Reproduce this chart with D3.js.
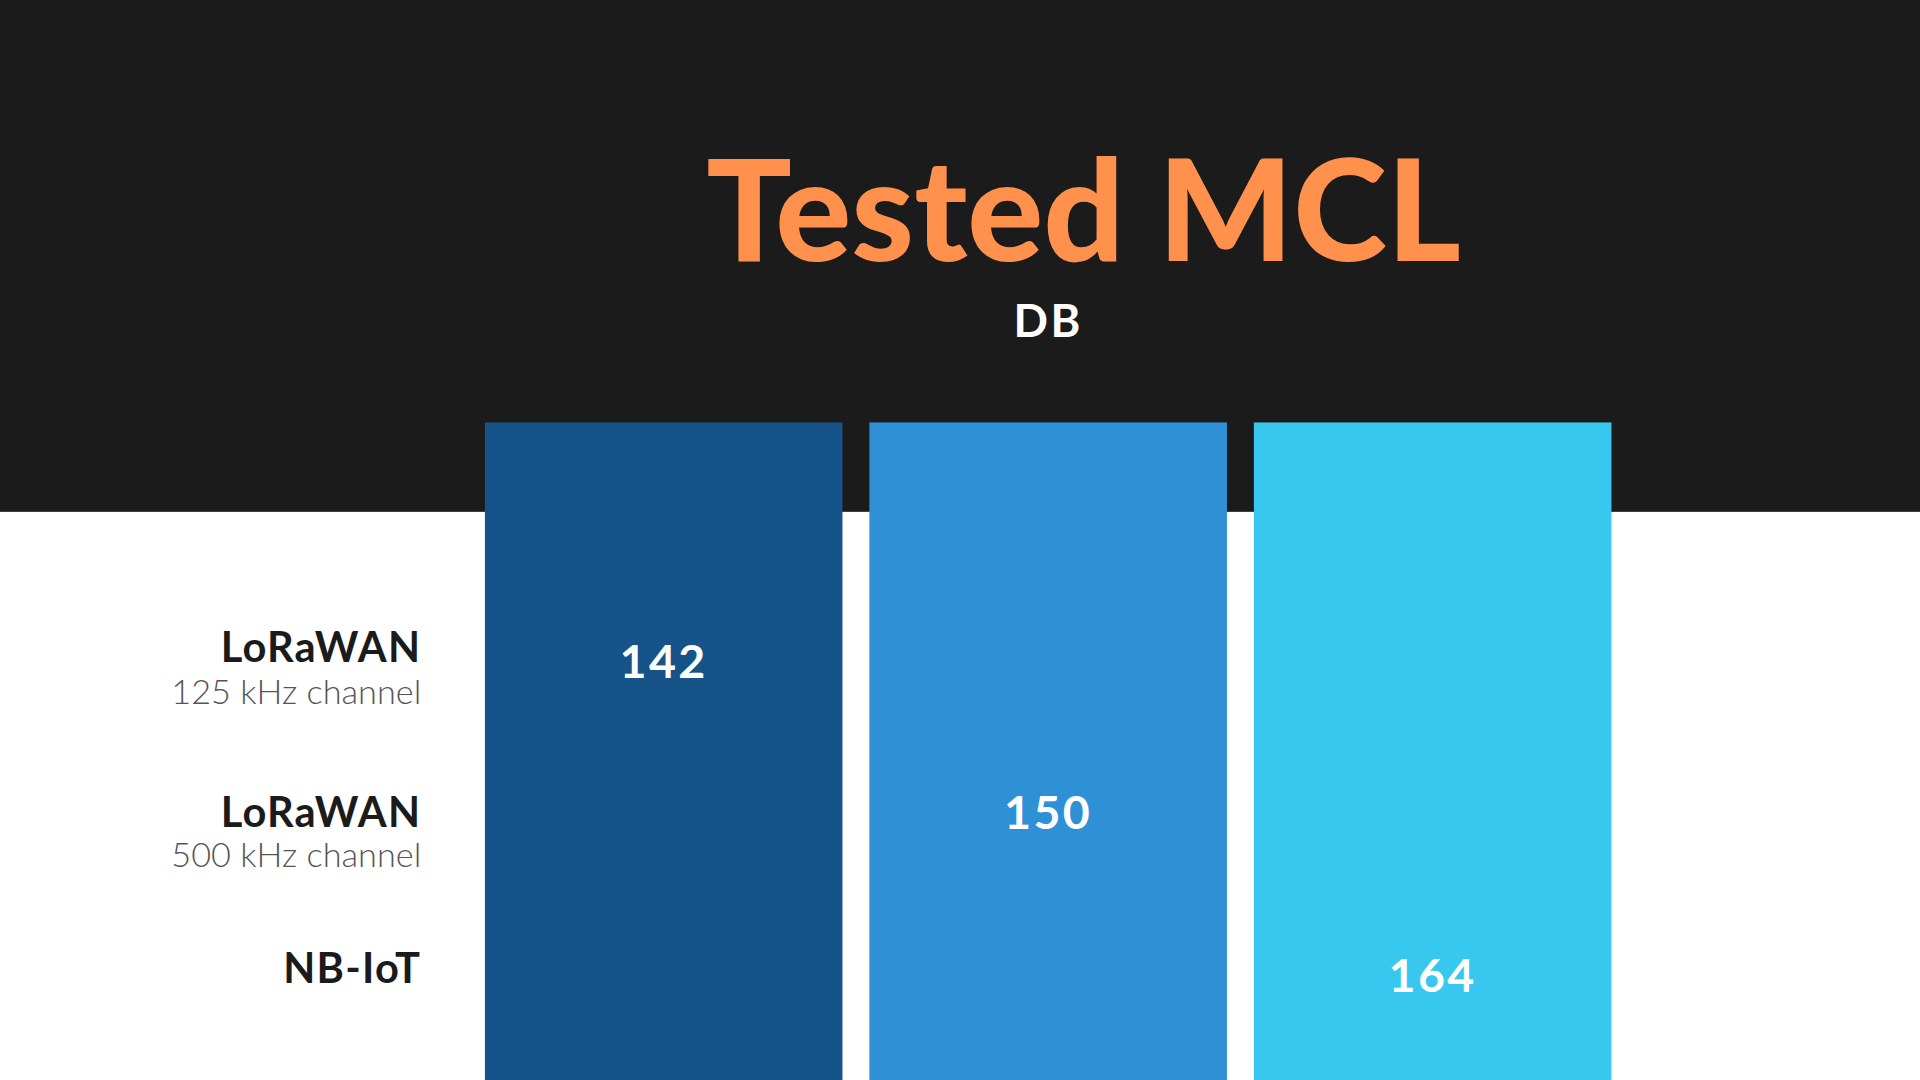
<!DOCTYPE html>
<html><head><meta charset="utf-8">
<script src="https://cdn.jsdelivr.net/npm/d3@7"></script>
<style>html,body{margin:0;padding:0;background:#fff;overflow:hidden}</style>
</head><body>
<script>
const categories = ["LoRaWAN|125 kHz channel", "LoRaWAN|500 kHz channel", "NB-IoT|"];
const values = [142, 150, 164];
const colors = ["#155389", "#2E91D6", "#38C8EF"];
const title = "Tested MCL";
const subtitle = "DB";

const W = 1568, H = 882;
const svg = d3.select("body").append("svg")
  .attr("width", 1920).attr("height", 1080)
  .attr("viewBox", `0 0 ${W} ${H}`);

svg.append("rect").attr("width", W).attr("height", H).attr("fill", "#fff");
svg.append("rect").attr("width", W).attr("height", 418).attr("fill", "#1b1b1b");

svg.append("text").text(title).attr("x", 885).attr("y", 213)
  .attr("text-anchor", "middle").attr("fill", "#FF914D")
  .attr("font-family", "Lato, 'Open Sans', sans-serif").attr("font-weight", 900)
  .attr("font-size", 116);
svg.append("text").text(subtitle).attr("x", 856).attr("y", 275)
  .attr("text-anchor", "middle").attr("fill", "#fff")
  .attr("font-family", "Lato, sans-serif").attr("font-weight", 700)
  .attr("font-size", 37).attr("letter-spacing", 2);

const x = d3.scaleBand().domain(categories).range([396, 1316]).paddingInner(22/314);
const y = d3.scaleBand().domain(categories).range([478, 850]);
const yVal = d3.scaleOrdinal().domain(categories).range([540, 664, 797]);

svg.selectAll(".bar").data(categories).join("rect")
  .attr("x", d => x(d)).attr("y", 345)
  .attr("width", x.bandwidth()).attr("height", H - 345)
  .attr("fill", (d, i) => colors[i]);

svg.selectAll(".val").data(categories).join("text")
  .attr("x", d => x(d) + x.bandwidth() / 2).attr("y", d => yVal(d))
  .attr("dy", "0.35em").attr("text-anchor", "middle").attr("fill", "#fff")
  .attr("font-family", "Lato, sans-serif").attr("font-weight", 700)
  .attr("font-size", 38).attr("letter-spacing", 2)
  .text((d, i) => values[i]);

const lab = svg.selectAll(".lab").data(categories).join("g");
lab.append("text")
  .attr("x", 344).attr("y", (d, i) => [541, 675, 803][i])
  .attr("text-anchor", "end").attr("fill", "#1b1b1b")
  .attr("font-family", "Lato, sans-serif").attr("font-weight", 700)
  .attr("font-size", 34).attr("letter-spacing", 1)
  .text(d => d.split("|")[0]);
lab.append("text")
  .attr("x", 344).attr("y", (d, i) => [575, 708, 0][i])
  .attr("text-anchor", "end").attr("fill", "#555")
  .attr("font-family", "Lato, sans-serif").attr("font-weight", 300)
  .attr("font-size", 28)
  .text(d => d.split("|")[1]);
</script>
</body></html>
